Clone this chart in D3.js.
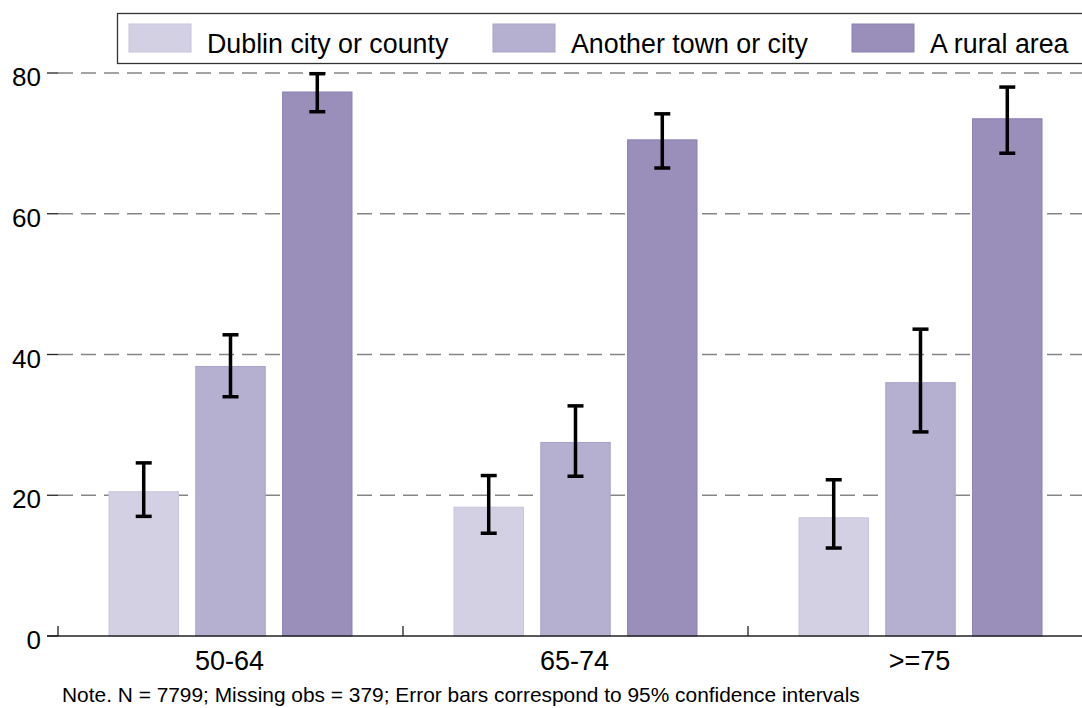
<!DOCTYPE html>
<html>
<meta charset="utf-8">
<style>
    body { margin: 0; background: #fff; }
    text { font-family: "Liberation Sans", Arial, sans-serif; fill: #000; }
</style>
<body>
<script src="https://d3js.org/d3.v7.min.js"></script>
<div id="chart"></div>
<script>
    // data
    var groups = ["50-64", "65-74", ">=75"];
    var series = ["Dublin city or county", "Another town or city", "A rural area"];
    var colors = ["#d4d0e4", "#b5b0d0", "#9a8fba"];
    var strokes = ["#c8c3dd", "#a9a2c8", "#8c80b3"];

    var dublin    = [20.5, 18.3, 16.8];
    var dublinLo  = [17.0, 14.6, 12.5];
    var dublinHi  = [24.6, 22.8, 22.2];
    var another   = [38.3, 27.5, 36.0];
    var anotherLo = [34.0, 22.7, 29.0];
    var anotherHi = [42.8, 32.7, 43.6];
    var rural     = [77.3, 70.5, 73.5];
    var ruralLo   = [74.5, 66.5, 68.6];
    var ruralHi   = [79.9, 74.2, 78.0];

    var yTicks = [0, 20, 40, 60, 80];
    var note = "Note. N = 7799; Missing obs = 379; Error bars correspond to 95% confidence intervals";

    var W = 1082, H = 708;
    var vals = [dublin, another, rural], los = [dublinLo, anotherLo, ruralLo], his = [dublinHi, anotherHi, ruralHi];
    var rows = [];
    groups.forEach(function (g, gi) {
        series.forEach(function (s, si) {
            rows.push({g: g, s: s, si: si, v: vals[si][gi], lo: los[si][gi], hi: his[si][gi]});
        });
    });

    var svg = d3.select("#chart").append("svg")
        .attr("width", W).attr("height", H);

    var y = d3.scaleLinear().domain([0, 80]).range([636, 73]);
    var x0 = d3.scaleBand().domain(groups).range([58, 1093]).padding(0);
    var x1 = d3.scaleBand().domain(series).range([51, 294]).paddingInner(0.2);

    // dashed gridlines
    svg.append("g").selectAll("line")
        .data(yTicks.filter(function (d) { return d > 0; }))
        .enter().append("line")
        .attr("x1", 58).attr("x2", W)
        .attr("y1", function (d) { return y(d); })
        .attr("y2", function (d) { return y(d); })
        .attr("stroke", "#858585")
        .attr("stroke-width", 1.5)
        .attr("stroke-dasharray", "15,8");

    // y ticks + labels
    var yg = svg.append("g");
    yg.selectAll("line").data(yTicks).enter().append("line")
        .attr("x1", 47).attr("x2", 58)
        .attr("y1", function (d) { return y(d); })
        .attr("y2", function (d) { return y(d); })
        .attr("stroke", "#222").attr("stroke-width", 1.3);
    yg.selectAll("text").data(yTicks).enter().append("text")
        .attr("x", 41)
        .attr("y", function (d) { return y(d) + 13; })
        .attr("text-anchor", "end")
        .style("font-size", "26px")
        .text(function (d) { return d; });

    // bars
    svg.append("g").selectAll("rect")
        .data(rows).enter().append("rect")
        .attr("x", function (d) { return x0(d.g) + x1(d.s); })
        .attr("y", function (d) { return y(d.v); })
        .attr("width", x1.bandwidth())
        .attr("height", function (d) { return y(0) - y(d.v); })
        .attr("fill", function (d) { return colors[d.si]; })
        .attr("stroke", function (d) { return strokes[d.si]; })
        .attr("stroke-width", 1);

    // error bars
    var eb = svg.append("g").attr("stroke", "#000").attr("stroke-width", 3.5);
    rows.forEach(function (d) {
        var cx = x0(d.g) + x1(d.s) + x1.bandwidth() / 2;
        eb.append("line").attr("x1", cx).attr("x2", cx).attr("y1", y(d.hi)).attr("y2", y(d.lo));
        eb.append("line").attr("x1", cx - 8).attr("x2", cx + 8).attr("y1", y(d.hi)).attr("y2", y(d.hi));
        eb.append("line").attr("x1", cx - 8).attr("x2", cx + 8).attr("y1", y(d.lo)).attr("y2", y(d.lo));
    });

    // x axis
    var xg = svg.append("g");
    xg.append("line").attr("x1", 47).attr("x2", W).attr("y1", y(0)).attr("y2", y(0))
        .attr("stroke", "#222").attr("stroke-width", 1.5);
    xg.selectAll("line.tk").data(groups).enter().append("line").attr("class", "tk")
        .attr("x1", function (d) { return x0(d); })
        .attr("x2", function (d) { return x0(d); })
        .attr("y1", y(0) - 10).attr("y2", y(0))
        .attr("stroke", "#222").attr("stroke-width", 1.3);
    xg.selectAll("text").data(groups).enter().append("text")
        .attr("x", function (d) { return x0(d) + x0.bandwidth() / 2 - 1; })
        .attr("y", 670)
        .attr("text-anchor", "middle")
        .style("font-size", "27px")
        .text(function (d) { return d; });

    // legend
    var lg = svg.append("g");
    lg.append("rect").attr("x", 117.5).attr("y", 13.5).attr("width", 1000).attr("height", 50)
        .attr("fill", "#fff").attr("stroke", "#333").attr("stroke-width", 1.3);
    var legX = [129, 493, 852];
    series.forEach(function (s, i) {
        lg.append("rect").attr("x", legX[i]).attr("y", 24).attr("width", 62).attr("height", 28)
            .attr("fill", colors[i]).attr("stroke", strokes[i]).attr("stroke-width", 1);
        lg.append("text").attr("x", legX[i] + 78).attr("y", 53)
            .style("font-size", "26.8px").text(s);
    });

    // note
    svg.append("text").attr("x", 62).attr("y", 702)
        .style("font-size", "20.9px").text(note);
</script>
</body>
</html>
